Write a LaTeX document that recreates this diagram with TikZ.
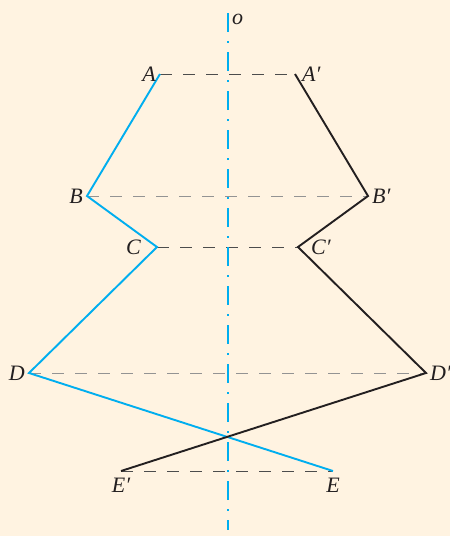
\documentclass[tikz,border=0pt]{standalone}
\usepackage{fontspec}
\usetikzlibrary{positioning}
\newfontfamily\lblfont{Liberation Serif}
\definecolor{paper}{RGB}{255,243,225}
\definecolor{lightblue}{RGB}{0,174,239}
\definecolor{ink}{RGB}{35,31,32}

\begin{document}
\begin{tikzpicture}[x=1pt,y=-1pt,
  lbl/.style={font=\lblfont\itshape\fontsize{22}{23}\selectfont,inner sep=1pt,text=ink},
  proj/.style={dash pattern=on 12pt off 11pt,line width=1pt,gray!85},
  projdark/.style={proj,black!70},
  axis/.style={lightblue,line width=1.2pt,dash pattern=on 19pt off 9pt on 2pt off 9pt},
  profile/.style={line width=1.9pt,line join=miter}]
  \fill[paper] (0,0) rectangle (450,536);
  \useasboundingbox (0,0) rectangle (450,536);
  % points of the left profile and its mirror image
  \coordinate (A) at (160,74);   \coordinate (A') at (295,74);
  \coordinate (B) at (87,196);   \coordinate (B') at (368,196);
  \coordinate (C) at (157,247);  \coordinate (C') at (298,247);
  \coordinate (D) at (29,373);   \coordinate (D') at (426,373);
  \coordinate (E) at (333,471);  \coordinate (E') at (121,471);
  \coordinate (top) at (228,13);
  \coordinate (bot) at (228,530);
  % projection lines
  \draw[projdark] (A) -- (A');
  \draw[proj] (B) -- (B');
  \draw[projdark] (C) -- (C');
  \draw[proj] (D) -- (D');
  \draw[projdark] (E') -- (E);
  % axis of symmetry
  \draw[axis] (top) -- (bot);
  % profiles
  \draw[profile,lightblue] (A) -- (B) -- (C) -- (D) -- (E);
  \draw[profile,ink] (A') -- (B') -- (C') -- (D') -- (E');
  % labels
  \node[lbl,left=3pt of A] (lA) {A};
  \node[lbl,right=6pt of A'] (lA') {A′};
  \node[lbl,left=3pt of B] (lB) {B};
  \node[lbl,right=3pt of B'] (lB') {B′};
  \node[lbl,left=15pt of C] (lC) {C};
  \node[lbl,right=12pt of C'] (lC') {C′};
  \node[lbl,left=3pt of D] (lD) {D};
  \node[lbl,right=3pt of D'] (lD') {D′};
  \node[lbl,below=6pt of E'] (lE') {E′};
  \node[lbl,below=6pt of E] (lE) {E};
  \node[lbl,anchor=west] (lo) at (231,19) {o};
\end{tikzpicture}
\end{document}
